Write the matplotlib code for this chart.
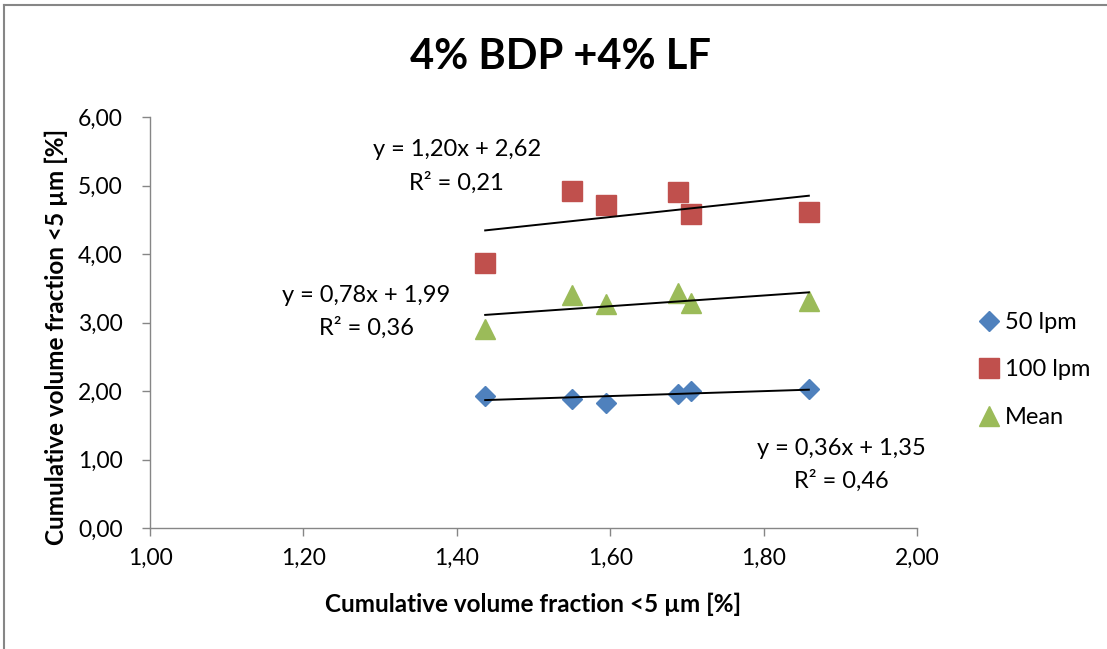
import numpy as np
import matplotlib
matplotlib.use("Agg")
import matplotlib.pyplot as plt
from matplotlib.lines import Line2D

plt.rcParams['font.family'] = ['Lato', 'DejaVu Sans']

# Measured data
x_vals = [1.437, 1.550, 1.594, 1.688, 1.705, 1.859]
y_50lpm = [1.93, 1.88, 1.83, 1.95, 2.00, 2.03]
y_100lpm = [3.87, 4.92, 4.71, 4.90, 4.58, 4.61]
y_mean = [2.90, 3.40, 3.27, 3.43, 3.29, 3.31]

series_names = ["50 lpm", "100 lpm", "Mean"]

# Linear trendline coefficients (slope, intercept, R²)
fit_50 = (0.36, 1.35, 0.46)
fit_100 = (1.20, 2.62, 0.21)
fit_mean = (0.78, 1.99, 0.36)

x_ticks = [1.00, 1.20, 1.40, 1.60, 1.80, 2.00]
y_ticks = [0.00, 1.00, 2.00, 3.00, 4.00, 5.00, 6.00]

title = "4% BDP +4% LF"
axis_label = "Cumulative volume fraction <5 µm [%]"

blue = "#4F81BD"
red = "#C0504D"
green = "#9BBB59"
axis_gray = "#868686"

W, H = 1107, 649
fig = plt.figure(figsize=(W / 100, H / 100), dpi=100)
ax = fig.add_axes([150 / W, 1 - 528 / H, 767 / W, 411 / H])

ax.plot(x_vals, y_50lpm, linestyle='none', marker='D', ms=9.8, color=blue,
        label=series_names[0], zorder=3)
ax.plot(x_vals, y_100lpm, linestyle='none', marker='s', ms=14.2, color=red,
        label=series_names[1], zorder=3)
ax.plot(x_vals, y_mean, linestyle='none', marker='^', ms=14.2, color=green,
        label=series_names[2], zorder=3)

# Trendlines across the data range
xr = np.array([min(x_vals), max(x_vals)])
for slope, icpt, _ in (fit_50, fit_100, fit_mean):
    ax.plot(xr, slope * xr + icpt, color='black', lw=1.4, zorder=4)


def fmt(v):
    return f"{v:.2f}".replace('.', ',')


def eq_text(fit, xc, y1, y2):
    slope, icpt, r2 = fit
    ax.text(xc, y1, f"y = {fmt(slope)}x + {fmt(icpt)}", ha='center', va='center',
            fontsize=17)
    ax.text(xc, y2, f"R² = {fmt(r2)}", ha='center', va='center', fontsize=17)


eq_text(fit_100, 1.400, 5.52, 5.04)
eq_text(fit_mean, 1.282, 3.40, 2.93)
eq_text(fit_50, 1.901, 1.16, 0.69)

ax.set_xlim(1.0, 2.0)
ax.set_ylim(0.0, 6.0)
ax.set_xticks(x_ticks)
ax.set_yticks(y_ticks)
ax.set_xticklabels([fmt(v) for v in x_ticks])
ax.set_yticklabels([fmt(v) for v in y_ticks])
ax.tick_params(axis='both', direction='out', length=5.5, width=1, color=axis_gray,
               labelsize=16.5)
ax.tick_params(axis='y', pad=14)
ax.tick_params(axis='x', pad=9)

for side in ('top', 'right'):
    ax.spines[side].set_visible(False)
for side in ('left', 'bottom'):
    ax.spines[side].set_color(axis_gray)
    ax.spines[side].set_linewidth(1)

ax.set_xlabel(axis_label, fontsize=17.5, fontweight='bold')
ax.set_ylabel(axis_label, fontsize=17.5, fontweight='bold')
ax.xaxis.set_label_coords(0.5, (528 - 593) / 411)
ax.yaxis.set_label_coords((68 - 150) / 767, (528 - 337) / 411)

fig.text(0.506, 1 - 57 / H, title, ha='center', va='center', fontsize=30,
         fontweight='bold')

fig.legend(*ax.get_legend_handles_labels(), loc='center left',
           bbox_to_anchor=(977 / W, 1 - 370 / H), bbox_transform=fig.transFigure,
           frameon=False, fontsize=17, handletextpad=0.2, labelspacing=1.12,
           borderaxespad=0, borderpad=0, handlelength=1.0)

# Chart area border
fig.add_artist(Line2D([4 / W, 4 / W], [0, 1 - 5 / H], transform=fig.transFigure,
                      color=axis_gray, lw=1.5))
fig.add_artist(Line2D([4 / W, 1], [1 - 5 / H, 1 - 5 / H], transform=fig.transFigure,
                      color=axis_gray, lw=1.5))

fig.savefig("out.png", dpi=100, facecolor='white')
